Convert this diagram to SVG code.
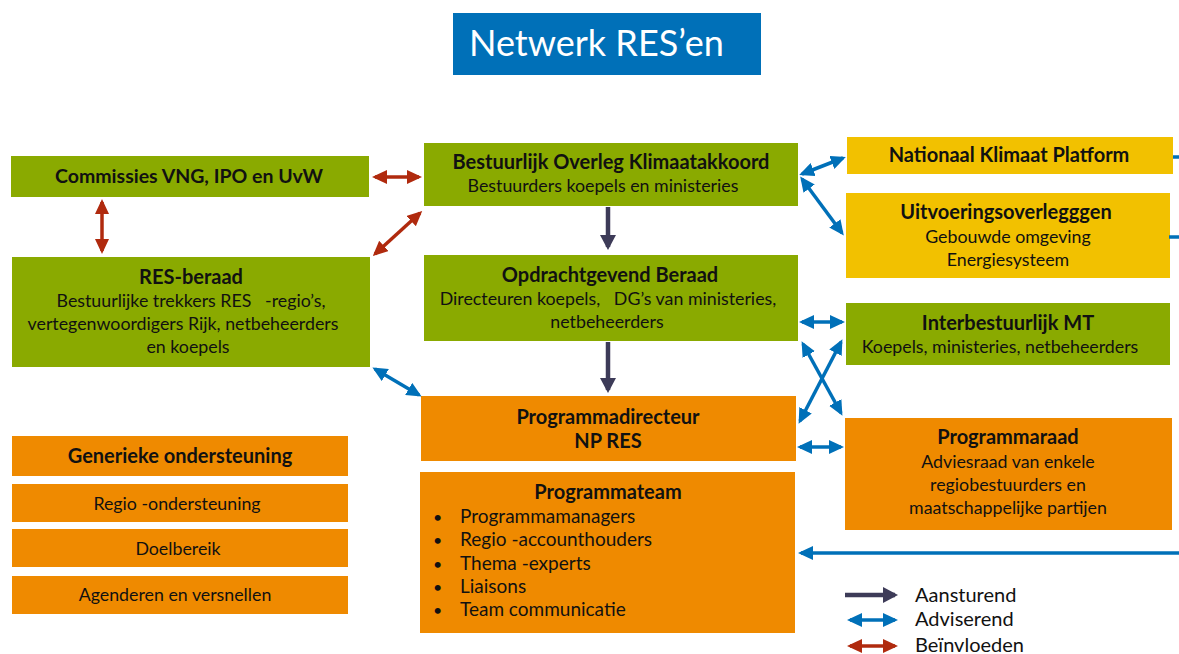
<svg xmlns="http://www.w3.org/2000/svg" width="1179" height="654" viewBox="0 0 1179 654">
<style>
text{font-family:Lato,"Open Sans","Liberation Sans",sans-serif;fill:#111;}
.b{font-weight:bold;font-size:20px;text-anchor:middle;}
.r{font-size:17.8px;text-anchor:middle;white-space:pre;}
.l{font-size:19px;white-space:pre;}
.lg{font-size:20px;}
.g{fill:#8aaa00;}
.y{fill:#f2c100;}
.o{fill:#ef8a00;}
.blue{stroke:#0070b8;stroke-width:3.5;fill:none;marker-start:url(#mb);marker-end:url(#mb);}
.blue1{stroke:#0070b8;stroke-width:3.5;fill:none;marker-end:url(#mb);}
.stub{stroke:#0070b8;stroke-width:3.5;fill:none;}
.red{stroke:#b02a0e;stroke-width:3.5;fill:none;marker-start:url(#mr);marker-end:url(#mr);}
.dark{stroke:#3d3b58;stroke-width:4.5;fill:none;marker-end:url(#md);}
</style>
<defs>
<marker id="mb" markerUnits="userSpaceOnUse" markerWidth="16" markerHeight="14" refX="12" refY="7" orient="auto-start-reverse"><path d="M0,0 L15,7 L0,14 z" fill="#0070b8"/></marker>
<marker id="mr" markerUnits="userSpaceOnUse" markerWidth="16" markerHeight="14" refX="12" refY="7" orient="auto-start-reverse"><path d="M0,0 L15,7 L0,14 z" fill="#b02a0e"/></marker>
<marker id="md" markerUnits="userSpaceOnUse" markerWidth="16" markerHeight="16" refX="12" refY="8" orient="auto"><path d="M0,0 L15,8 L0,16 z" fill="#3d3b58"/></marker>
</defs>
<rect width="1179" height="654" fill="#fff"/>

<g id="title">
<rect x="453" y="13" width="308" height="62" fill="#0070b8"/>
<text x="469" y="56" style="font-size:36px;fill:#fff">Netwerk RES’en</text>
</g>

<g id="commissies">
<rect class="g" x="11" y="156" width="358" height="41"/>
<text class="b" x="189" y="183" style="font-size:19.5px">Commissies VNG, IPO en UvW</text>
</g>

<g id="res-beraad">
<rect class="g" x="12" y="257" width="358" height="110"/>
<text class="b" x="191" y="284">RES-beraad</text>
<text class="r" x="191" y="307">Bestuurlijke trekkers RES   -regio’s,</text>
<text class="r" x="183" y="330">vertegenwoordigers Rijk, netbeheerders</text>
<text class="r" x="188" y="353">en koepels</text>
</g>

<g id="bestuurlijk-overleg">
<rect class="g" x="424" y="143" width="374" height="63"/>
<text class="b" x="611" y="169">Bestuurlijk Overleg Klimaatakkoord</text>
<text class="r" x="603" y="192">Bestuurders koepels en ministeries</text>
</g>

<g id="opdrachtgevend-beraad">
<rect class="g" x="424" y="255" width="374" height="86"/>
<text class="b" x="610" y="282">Opdrachtgevend Beraad</text>
<text class="r" x="608" y="305">Directeuren koepels,   DG’s van ministeries,</text>
<text class="r" x="607" y="328">netbeheerders</text>
</g>

<g id="nationaal-klimaat-platform">
<rect class="y" x="847" y="137" width="326" height="37"/>
<text class="b" x="1009" y="162">Nationaal Klimaat Platform</text>
</g>

<g id="uitvoeringsoverleggen">
<rect class="y" x="846" y="193" width="324" height="85"/>
<text class="b" x="1006" y="219">Uitvoeringsoverlegggen</text>
<text class="r" x="1008" y="243">Gebouwde omgeving</text>
<text class="r" x="1008" y="266">Energiesysteem</text>
</g>

<g id="interbestuurlijk-mt">
<rect class="g" x="846" y="303" width="324" height="62"/>
<text class="b" x="1008" y="330">Interbestuurlijk MT</text>
<text class="r" x="1000" y="353">Koepels, ministeries, netbeheerders</text>
</g>

<g id="programmaraad">
<rect class="o" x="845" y="418" width="327" height="112"/>
<text class="b" x="1008" y="444">Programmaraad</text>
<text class="r" x="1008" y="468">Adviesraad van enkele</text>
<text class="r" x="1008" y="491">regiobestuurders en</text>
<text class="r" x="1008" y="514">maatschappelijke partijen</text>
</g>

<g id="programmadirecteur">
<rect class="o" x="421" y="396" width="375" height="65"/>
<text class="b" x="608" y="424">Programmadirecteur</text>
<text class="b" x="608" y="448">NP RES</text>
</g>

<g id="programmateam">
<rect class="o" x="420" y="472" width="375" height="161"/>
<text class="b" x="608" y="499">Programmateam</text>
<text class="l" x="433" y="523" style="font-size:16px">•</text><text class="l" x="460" y="523">Programmamanagers</text>
<text class="l" x="433" y="546" style="font-size:16px">•</text><text class="l" x="460" y="546">Regio -accounthouders</text>
<text class="l" x="433" y="570" style="font-size:16px">•</text><text class="l" x="460" y="570">Thema -experts</text>
<text class="l" x="433" y="593" style="font-size:16px">•</text><text class="l" x="460" y="593">Liaisons</text>
<text class="l" x="433" y="616" style="font-size:16px">•</text><text class="l" x="460" y="616">Team communicatie</text>
</g>

<g id="generieke-ondersteuning">
<rect class="o" x="12" y="436" width="336" height="40"/>
<text class="b" x="180" y="463">Generieke ondersteuning</text>
</g>
<g id="regio-ondersteuning">
<rect class="o" x="12" y="484" width="336" height="38"/>
<text class="r" x="177" y="510">Regio -ondersteuning</text>
</g>
<g id="doelbereik">
<rect class="o" x="12" y="529" width="336" height="38"/>
<text class="r" x="178" y="555">Doelbereik</text>
</g>
<g id="agenderen">
<rect class="o" x="12" y="576" width="336" height="38"/>
<text class="r" x="175" y="601">Agenderen en versnellen</text>
</g>

<g id="connectors">
<line class="red" x1="375" y1="177" x2="419" y2="177"/>
<line class="red" x1="102" y1="202" x2="102" y2="251"/>
<line class="red" x1="375" y1="254" x2="420" y2="213"/>
<line class="dark" x1="608" y1="207" x2="608" y2="247"/>
<line class="dark" x1="608" y1="342" x2="608" y2="390"/>
<line class="blue" x1="375" y1="369" x2="419" y2="395"/>
<line class="blue" x1="802" y1="174" x2="843" y2="158"/>
<line class="blue" x1="802" y1="179" x2="842" y2="233"/>
<line class="blue" x1="802" y1="322" x2="842" y2="322"/>
<line class="blue" x1="803" y1="344" x2="841" y2="413"/>
<line class="blue" x1="841" y1="342" x2="800" y2="421"/>
<line class="blue" x1="800" y1="447" x2="841" y2="447"/>
<line class="blue1" x1="1179" y1="553" x2="801" y2="553"/>
<line class="stub" x1="1173" y1="157" x2="1179" y2="157"/>
<line class="stub" x1="1169" y1="237" x2="1179" y2="237"/>
</g>

<g id="legend">
<line class="dark" x1="845" y1="595" x2="895" y2="595"/>
<text class="lg" x="915" y="602">Aansturend</text>
<line class="blue" x1="850" y1="620" x2="895" y2="620"/>
<text class="lg" x="915" y="626">Adviserend</text>
<line class="red" x1="850" y1="646" x2="895" y2="646"/>
<text class="lg" x="915" y="652">Beïnvloeden</text>
</g>
</svg>
